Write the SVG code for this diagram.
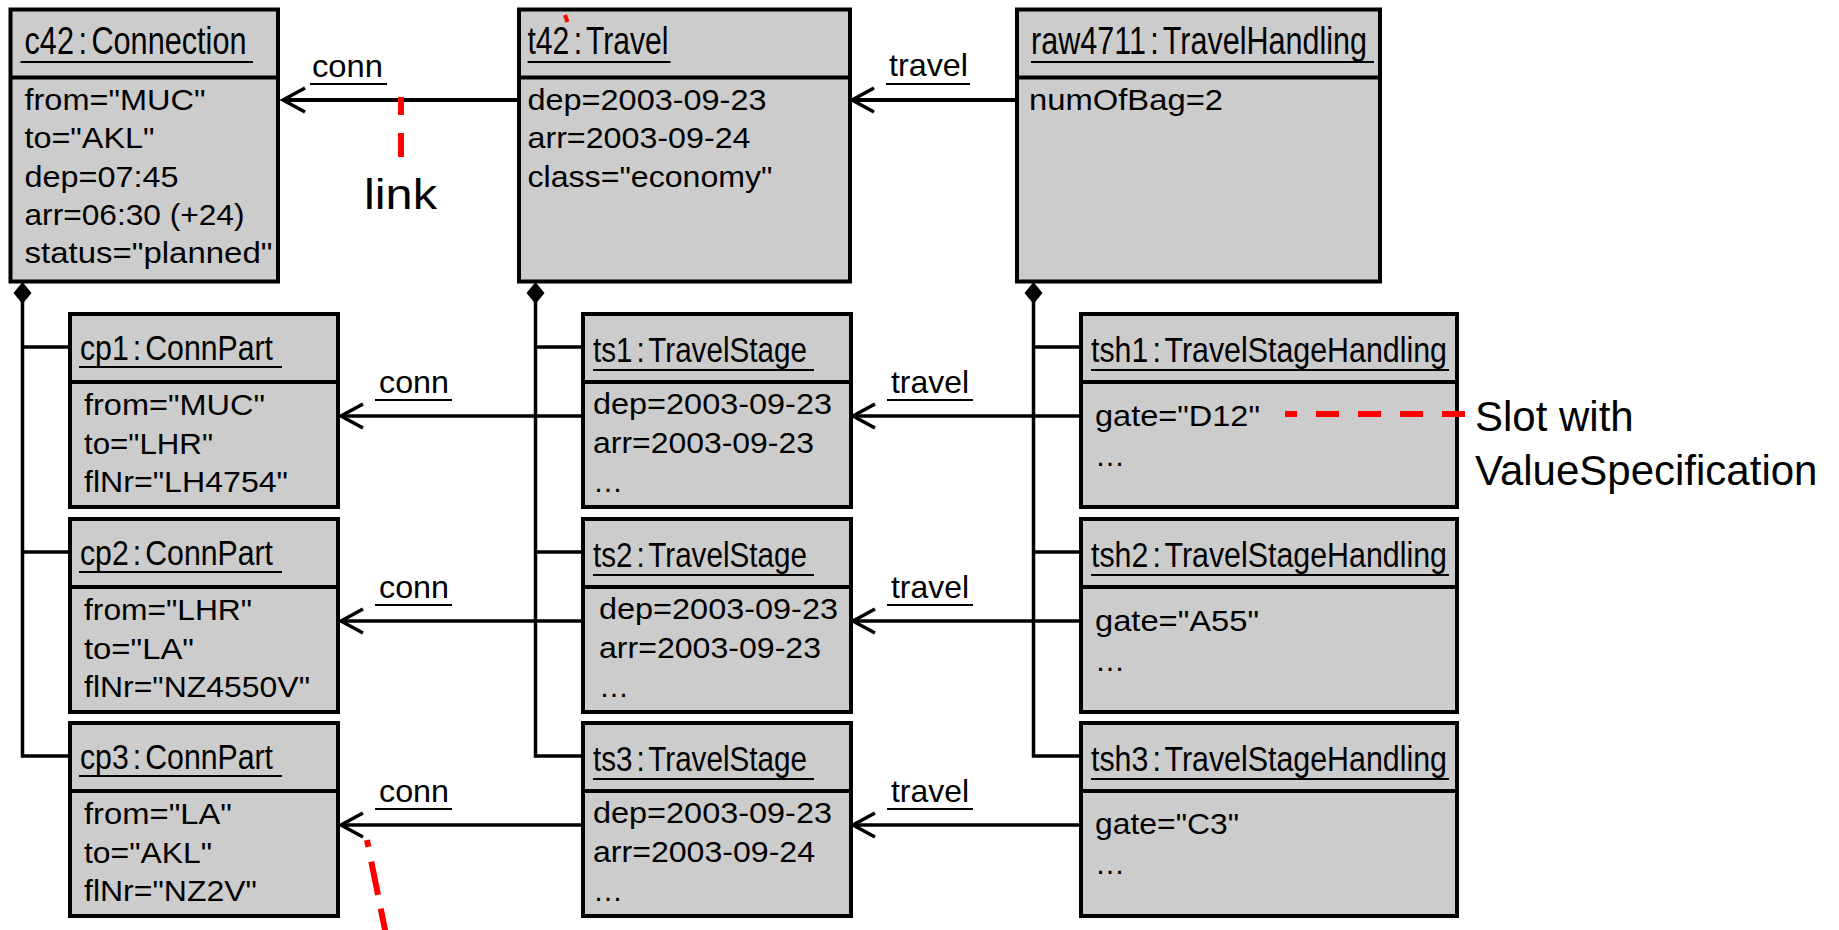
<svg xmlns="http://www.w3.org/2000/svg" width="1839" height="930" viewBox="0 0 1839 930">
<style>
.box{fill:#cccccc;stroke:#000;stroke-width:4}
.dv{stroke:#000;stroke-width:4}
.t{font-family:"Liberation Sans",Arial,sans-serif;fill:#000}
.ti1{font-size:38px;word-spacing:-5px}
.ti2{font-size:35px;word-spacing:-5px}
.at{font-size:30px}
.lb{font-size:32px}
.ul{stroke:#000;stroke-width:2}
.ln{stroke:#000;stroke-width:3.5;fill:none}
.ln1{stroke:#000;stroke-width:4;fill:none}
.red{stroke:#ff0000;stroke-width:6;fill:none}
.note{font-family:"Liberation Sans",Arial,sans-serif;font-size:42px;fill:#000}
</style>
<defs>
<marker id="open" markerUnits="userSpaceOnUse" viewBox="-26 -16 30 32" markerWidth="30" markerHeight="32" refX="0" refY="0" orient="auto" overflow="visible">
<path d="M-22,-12 L0,0 L-22,12" fill="none" stroke="#000" stroke-width="3.5"/>
</marker>
<path id="dia" d="M0,0 L9,11 L0,22 L-9,11 Z" fill="#000"/>
</defs>

<g id="connectors">
<path class="ln1" d="M518,100 H283" marker-end="url(#open)"/>
<path class="ln1" d="M1017,100 H852" marker-end="url(#open)"/>
<path class="ln" d="M583,416 H341" marker-end="url(#open)"/>
<path class="ln" d="M583,621 H341" marker-end="url(#open)"/>
<path class="ln" d="M583,825 H341" marker-end="url(#open)"/>
<path class="ln" d="M1080,416 H853" marker-end="url(#open)"/>
<path class="ln" d="M1080,621 H853" marker-end="url(#open)"/>
<path class="ln" d="M1080,825 H853" marker-end="url(#open)"/>
<path class="ln" d="M22.5,300 V756 H70 M22.5,347 H70 M22.5,552 H70"/>
<path class="ln" d="M535.5,300 V756 H583 M535.5,347 H583 M535.5,552 H583"/>
<path class="ln" d="M1033.5,300 V756 H1080 M1033.5,347 H1080 M1033.5,552 H1080"/>
<use href="#dia" x="22.5" y="282"/>
<use href="#dia" x="535.5" y="282"/>
<use href="#dia" x="1033.5" y="282"/>
<text class="t lb" x="312" y="77" textLength="71" lengthAdjust="spacingAndGlyphs">conn</text>
<line class="ul" x1="310" y1="84" x2="387" y2="84"/>
<text class="t lb" x="889" y="76" textLength="79" lengthAdjust="spacingAndGlyphs">travel</text>
<line class="ul" x1="886" y1="84" x2="970" y2="84"/>
<text class="t lb" x="379" y="393" textLength="70" lengthAdjust="spacingAndGlyphs">conn</text>
<line class="ul" x1="375" y1="400" x2="452" y2="400"/>
<text class="t lb" x="379" y="598" textLength="70" lengthAdjust="spacingAndGlyphs">conn</text>
<line class="ul" x1="375" y1="605" x2="452" y2="605"/>
<text class="t lb" x="379" y="802" textLength="70" lengthAdjust="spacingAndGlyphs">conn</text>
<line class="ul" x1="375" y1="809" x2="452" y2="809"/>
<text class="t lb" x="891" y="393" textLength="78" lengthAdjust="spacingAndGlyphs">travel</text>
<line class="ul" x1="887" y1="400" x2="973" y2="400"/>
<text class="t lb" x="891" y="598" textLength="78" lengthAdjust="spacingAndGlyphs">travel</text>
<line class="ul" x1="887" y1="605" x2="973" y2="605"/>
<text class="t lb" x="891" y="802" textLength="78" lengthAdjust="spacingAndGlyphs">travel</text>
<line class="ul" x1="887" y1="809" x2="973" y2="809"/>
</g>

<g id="c42">
<rect class="box" x="10.5" y="9.5" width="267.5" height="272"/>
<line class="dv" x1="10.5" y1="77.5" x2="278" y2="77.5"/>
<text class="t ti1" x="24.5" y="54" textLength="222" lengthAdjust="spacingAndGlyphs">c42 : Connection</text>
<line class="ul" x1="20.5" y1="62" x2="253" y2="62"/>
<text class="t at" x="24.5" y="110" textLength="181" lengthAdjust="spacingAndGlyphs">from="MUC"</text>
<text class="t at" x="24.5" y="148" textLength="130" lengthAdjust="spacingAndGlyphs">to="AKL"</text>
<text class="t at" x="24.5" y="187" textLength="154" lengthAdjust="spacingAndGlyphs">dep=07:45</text>
<text class="t at" x="24.5" y="225" textLength="220" lengthAdjust="spacingAndGlyphs">arr=06:30 (+24)</text>
<text class="t at" x="24.5" y="263" textLength="248" lengthAdjust="spacingAndGlyphs">status="planned"</text>
</g>

<g id="t42">
<rect class="box" x="519" y="9.5" width="331" height="272"/>
<line class="dv" x1="519" y1="77.5" x2="850" y2="77.5"/>
<text class="t ti1" x="527.5" y="54" textLength="141" lengthAdjust="spacingAndGlyphs">t42 : Travel</text>
<line class="ul" x1="527.5" y1="62" x2="670.5" y2="62"/>
<text class="t at" x="527.5" y="110" textLength="239" lengthAdjust="spacingAndGlyphs">dep=2003-09-23</text>
<text class="t at" x="527.5" y="148" textLength="223" lengthAdjust="spacingAndGlyphs">arr=2003-09-24</text>
<text class="t at" x="527.5" y="187" textLength="245" lengthAdjust="spacingAndGlyphs">class="economy"</text>
</g>

<g id="raw4711">
<rect class="box" x="1017" y="9.5" width="363" height="272"/>
<line class="dv" x1="1017" y1="77.5" x2="1380" y2="77.5"/>
<text class="t ti1" x="1031" y="54" textLength="336" lengthAdjust="spacingAndGlyphs">raw4711 : TravelHandling</text>
<line class="ul" x1="1031" y1="62" x2="1374" y2="62"/>
<text class="t at" x="1029" y="110" textLength="194" lengthAdjust="spacingAndGlyphs">numOfBag=2</text>
</g>

<g id="cp1">
<rect class="box" x="70" y="314" width="268" height="193"/>
<line class="dv" x1="70" y1="382" x2="338" y2="382"/>
<text class="t ti2" x="80" y="360" textLength="193" lengthAdjust="spacingAndGlyphs">cp1 : ConnPart</text>
<line class="ul" x1="79" y1="367" x2="282" y2="367"/>
<text class="t at" x="84" y="415" textLength="181" lengthAdjust="spacingAndGlyphs">from="MUC"</text>
<text class="t at" x="84" y="454" textLength="129" lengthAdjust="spacingAndGlyphs">to="LHR"</text>
<text class="t at" x="84" y="492" textLength="204" lengthAdjust="spacingAndGlyphs">flNr="LH4754"</text>
</g>

<g id="cp2">
<rect class="box" x="70" y="519" width="268" height="193"/>
<line class="dv" x1="70" y1="587" x2="338" y2="587"/>
<text class="t ti2" x="80" y="565" textLength="193" lengthAdjust="spacingAndGlyphs">cp2 : ConnPart</text>
<line class="ul" x1="79" y1="572" x2="282" y2="572"/>
<text class="t at" x="84" y="620" textLength="168" lengthAdjust="spacingAndGlyphs">from="LHR"</text>
<text class="t at" x="84" y="659" textLength="110" lengthAdjust="spacingAndGlyphs">to="LA"</text>
<text class="t at" x="84" y="697" textLength="226" lengthAdjust="spacingAndGlyphs">flNr="NZ4550V"</text>
</g>

<g id="cp3">
<rect class="box" x="70" y="723" width="268" height="193"/>
<line class="dv" x1="70" y1="791" x2="338" y2="791"/>
<text class="t ti2" x="80" y="769" textLength="193" lengthAdjust="spacingAndGlyphs">cp3 : ConnPart</text>
<line class="ul" x1="79" y1="776" x2="282" y2="776"/>
<text class="t at" x="84" y="824" textLength="148" lengthAdjust="spacingAndGlyphs">from="LA"</text>
<text class="t at" x="84" y="863" textLength="128" lengthAdjust="spacingAndGlyphs">to="AKL"</text>
<text class="t at" x="84" y="901" textLength="173" lengthAdjust="spacingAndGlyphs">flNr="NZ2V"</text>
</g>

<g id="ts1">
<rect class="box" x="583" y="314" width="268" height="193"/>
<line class="dv" x1="583" y1="382" x2="851" y2="382"/>
<text class="t ti2" x="593" y="362" textLength="214" lengthAdjust="spacingAndGlyphs">ts1 : TravelStage</text>
<line class="ul" x1="593" y1="370" x2="814" y2="370"/>
<text class="t at" x="593" y="414" textLength="239" lengthAdjust="spacingAndGlyphs">dep=2003-09-23</text>
<text class="t at" x="593" y="453" textLength="221" lengthAdjust="spacingAndGlyphs">arr=2003-09-23</text>
<text class="t at" x="593" y="492" textLength="30" lengthAdjust="spacingAndGlyphs">…</text>
</g>

<g id="ts2">
<rect class="box" x="583" y="519" width="268" height="193"/>
<line class="dv" x1="583" y1="587" x2="851" y2="587"/>
<text class="t ti2" x="593" y="567" textLength="214" lengthAdjust="spacingAndGlyphs">ts2 : TravelStage</text>
<line class="ul" x1="593" y1="575" x2="814" y2="575"/>
<text class="t at" x="599" y="619" textLength="239" lengthAdjust="spacingAndGlyphs">dep=2003-09-23</text>
<text class="t at" x="599" y="658" textLength="222" lengthAdjust="spacingAndGlyphs">arr=2003-09-23</text>
<text class="t at" x="599" y="697" textLength="30" lengthAdjust="spacingAndGlyphs">…</text>
</g>

<g id="ts3">
<rect class="box" x="583" y="723" width="268" height="193"/>
<line class="dv" x1="583" y1="791" x2="851" y2="791"/>
<text class="t ti2" x="593" y="771" textLength="214" lengthAdjust="spacingAndGlyphs">ts3 : TravelStage</text>
<line class="ul" x1="593" y1="779" x2="814" y2="779"/>
<text class="t at" x="593" y="823" textLength="239" lengthAdjust="spacingAndGlyphs">dep=2003-09-23</text>
<text class="t at" x="593" y="862" textLength="222" lengthAdjust="spacingAndGlyphs">arr=2003-09-24</text>
<text class="t at" x="593" y="901" textLength="30" lengthAdjust="spacingAndGlyphs">…</text>
</g>

<g id="tsh1">
<rect class="box" x="1081" y="314" width="376" height="193"/>
<line class="dv" x1="1081" y1="382" x2="1457" y2="382"/>
<text class="t ti2" x="1091" y="362" textLength="356" lengthAdjust="spacingAndGlyphs">tsh1 : TravelStageHandling</text>
<line class="ul" x1="1091" y1="370" x2="1449" y2="370"/>
<text class="t at" x="1095" y="426" textLength="165" lengthAdjust="spacingAndGlyphs">gate="D12"</text>
<text class="t at" x="1095" y="466" textLength="30" lengthAdjust="spacingAndGlyphs">…</text>
</g>

<g id="tsh2">
<rect class="box" x="1081" y="519" width="376" height="193"/>
<line class="dv" x1="1081" y1="587" x2="1457" y2="587"/>
<text class="t ti2" x="1091" y="567" textLength="356" lengthAdjust="spacingAndGlyphs">tsh2 : TravelStageHandling</text>
<line class="ul" x1="1091" y1="575" x2="1449" y2="575"/>
<text class="t at" x="1095" y="631" textLength="164" lengthAdjust="spacingAndGlyphs">gate="A55"</text>
<text class="t at" x="1095" y="671" textLength="30" lengthAdjust="spacingAndGlyphs">…</text>
</g>

<g id="tsh3">
<rect class="box" x="1081" y="723" width="376" height="193"/>
<line class="dv" x1="1081" y1="791" x2="1457" y2="791"/>
<text class="t ti2" x="1091" y="771" textLength="356" lengthAdjust="spacingAndGlyphs">tsh3 : TravelStageHandling</text>
<line class="ul" x1="1091" y1="779" x2="1449" y2="779"/>
<text class="t at" x="1095" y="834" textLength="144" lengthAdjust="spacingAndGlyphs">gate="C3"</text>
<text class="t at" x="1095" y="874" textLength="30" lengthAdjust="spacingAndGlyphs">…</text>
</g>

<g id="annotations">
<path class="red" d="M401,97 V157" stroke-dasharray="18 18 24"/>
<text class="note" x="364" y="209" font-size="44" textLength="73" lengthAdjust="spacingAndGlyphs">link</text>
<path class="red" d="M1465,414 H1285" stroke-dasharray="23 19"/>
<text class="note" x="1475" y="431">Slot with</text>
<text class="note" x="1475" y="485">ValueSpecification</text>
<path class="red" d="M367,840 L386,935" stroke-dasharray="7 15 34 14 40"/>
<path d="M565,15 L567.5,22" stroke="#ff0000" stroke-width="4"/>
</g>
</svg>
